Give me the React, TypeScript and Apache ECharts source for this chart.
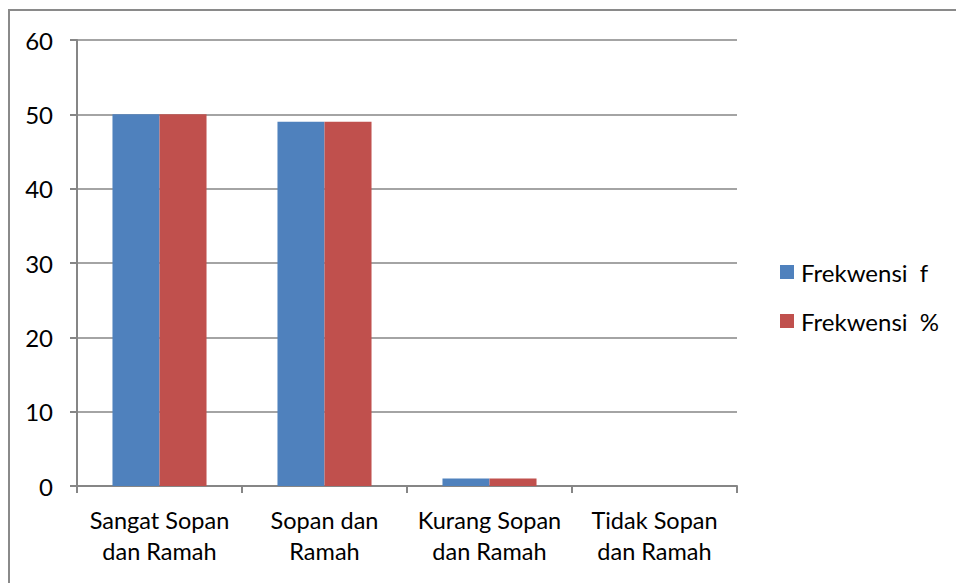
import React, { useEffect, useRef } from "react";
import * as echarts from "echarts";

const categories = ["Sangat Sopan\ndan Ramah", "Sopan dan\nRamah", "Kurang Sopan\ndan Ramah", "Tidak Sopan\ndan Ramah"];
const seriesNames = ["Frekwensi  f", "Frekwensi  %"];
const frekF = [50, 49, 1, 0];
const frekPct = [50, 49, 1, 0];
const colors = ["#4F81BD", "#C0504D"];

const FONT = "Lato, 'Open Sans', sans-serif";

export default function App() {
  const ref = useRef<HTMLDivElement>(null);
  useEffect(() => {
    document.body.style.margin = "0";
    const chart = echarts.init(ref.current!, null, { renderer: "svg" });
    chart.setOption({
      animation: false,
      backgroundColor: "#ffffff",
      textStyle: { fontFamily: FONT },
      graphic: [
        {
          type: "rect",
          shape: { x: 9, y: 10, width: 1000, height: 1000 },
          style: { fill: "none", stroke: "#8a8a8a", lineWidth: 2 },
          silent: true,
        },
      ],
      grid: { left: 77, top: 40, right: 219, bottom: 97, containLabel: false },
      legend: {
        orient: "vertical",
        left: 775,
        top: 255,
        itemWidth: 14,
        itemHeight: 14,
        itemGap: 25,
        icon: "rect",
        textStyle: { fontSize: 24, color: "#000", fontFamily: FONT, lineHeight: 24, padding: [0, 0, 0, 2] },
        data: seriesNames,
      },
      xAxis: {
        type: "category",
        data: categories,
        axisLine: { lineStyle: { color: "#868686", width: 2 } },
        axisTick: { show: true, alignWithLabel: false, length: 7, lineStyle: { color: "#868686", width: 2 } },
        axisLabel: { color: "#000", fontSize: 23.5, lineHeight: 31, margin: 18, fontFamily: FONT, interval: 0 },
      },
      yAxis: {
        type: "value",
        min: 0,
        max: 60,
        interval: 10,
        axisLine: { show: true, lineStyle: { color: "#868686", width: 2 } },
        axisTick: { show: true, length: 7, lineStyle: { color: "#868686", width: 2 } },
        splitLine: { lineStyle: { color: "#868686", width: 1.5 } },
        axisLabel: { color: "#000", fontSize: 24, margin: 24, fontFamily: FONT },
      },
      series: [
        { name: seriesNames[0], type: "bar", data: frekF, itemStyle: { color: colors[0] }, barGap: "0%", barCategoryGap: "43%" },
        { name: seriesNames[1], type: "bar", data: frekPct, itemStyle: { color: colors[1] }, barGap: "0%", barCategoryGap: "43%" },
      ],
    });
    return () => chart.dispose();
  }, []);
  return <div ref={ref} style={{ width: 956, height: 583 }} />;
}
